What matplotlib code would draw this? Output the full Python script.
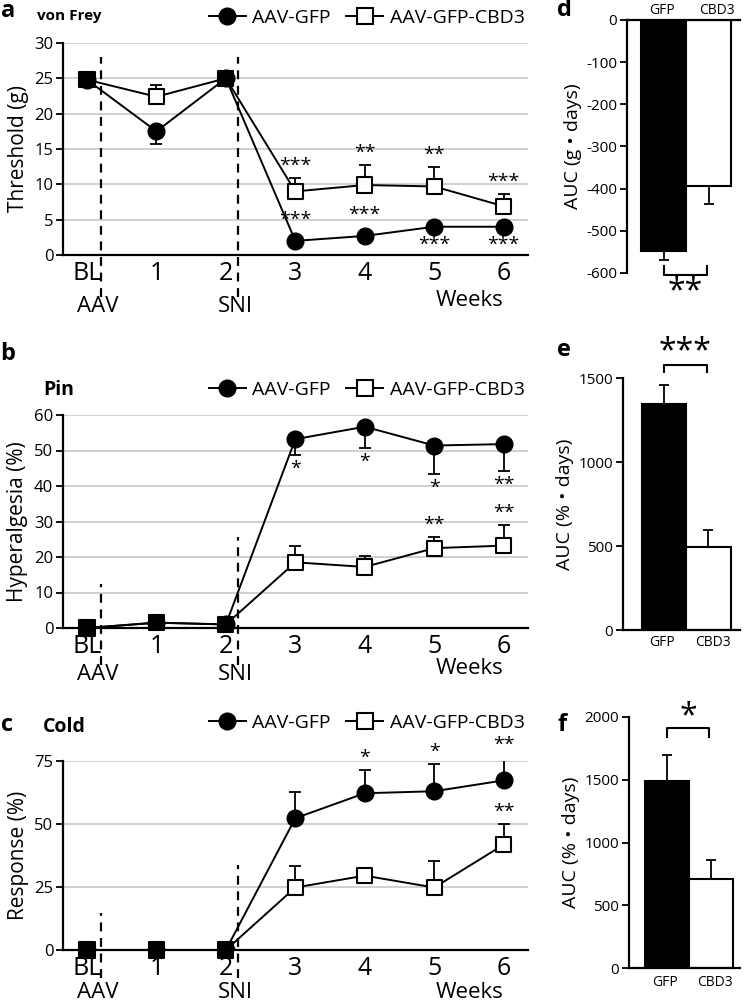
"""
Recreation of a six-panel behaviour figure: time courses (a-c) and AUC bars (d-f).
"""
import numpy as np
import matplotlib
matplotlib.use('Agg')
import matplotlib.pyplot as plt
from matplotlib.lines import Line2D

plt.rcParams['font.family'] = ['Open Sans', 'DejaVu Sans']
plt.rcParams['axes.unicode_minus'] = False

# ---- data -------------------------------------------------------------
week_labels = ['BL', '1', '2', '3', '4', '5', '6']
series_names = ['AAV-GFP', 'AAV-GFP-CBD3']

# a: von Frey threshold (g)
vf_gfp = [24.8, 17.5, 25.0, 2.0, 2.7, 4.0, 4.0]
vf_gfp_err = [0, 1.8, 0, 0.3, 0.3, 0.6, 0.6]
vf_cbd3 = [24.8, 22.4, 25.0, 9.0, 9.9, 9.7, 6.9]
vf_cbd3_err = [0, 1.7, 0, 1.9, 2.8, 2.7, 1.7]
vf_gfp_stars = ['', '', '', '***', '***', '***', '***']
vf_gfp_star_side = ['', '', '', 'up', 'up', 'down', 'down']
vf_cbd3_stars = ['', '', '', '***', '**', '**', '***']

# b: pin hyperalgesia (%)
pin_gfp = [0, 1.5, 1.0, 53.2, 56.7, 51.4, 51.8]
pin_gfp_err = [0, 0, 0, 4.5, 6.1, 8.0, 7.5]
pin_cbd3 = [0, 1.5, 1.0, 18.5, 17.2, 22.5, 23.2]
pin_cbd3_err = [0, 0, 0, 4.5, 3.0, 3.1, 5.8]
pin_gfp_stars = ['', '', '', '*', '*', '*', '**']
pin_cbd3_stars = ['', '', '', '', '', '**', '**']

# c: cold response (%)
cold_gfp = [0, 0, 0, 52.3, 62.2, 63.0, 67.3]
cold_gfp_err = [0, 0, 0, 10.3, 9.2, 10.8, 9.0]
cold_cbd3 = [0, 0, 0, 24.8, 29.5, 24.8, 41.8]
cold_cbd3_err = [0, 0, 0, 8.5, 2.9, 10.6, 8.1]
cold_gfp_stars = ['', '', '', '', '*', '*', '**']
cold_cbd3_stars = ['', '', '', '', '', '', '**']

# d-f: area under curve
groups = ['GFP', 'CBD3']
auc_vf = [-548, -393]
auc_vf_err = [20, 44]
auc_pin = [1343, 495]
auc_pin_err = [117, 99]
auc_cold = [1490, 712]
auc_cold_err = [208, 145]

# events (x position between weeks)
aav_x = 0.2
sni_x = 2.17

# ---- layout helpers ----------------------------------------------------
W, H = 746, 1008
fig = plt.figure(figsize=(W / 100, H / 100), dpi=100)


def px_axes(left, top, right, bottom):
    return fig.add_axes([left / W, 1 - bottom / H, (right - left) / W, (bottom - top) / H])


def ftext(x, y, s, **kw):
    kw.setdefault('ha', 'center')
    kw.setdefault('va', 'center')
    fig.text(x / W, 1 - y / H, s, **kw)


def style_axes(ax):
    for side in ['top', 'right']:
        ax.spines[side].set_visible(False)
    for side in ['left', 'bottom']:
        ax.spines[side].set_linewidth(1.6)
    ax.tick_params(axis='y', direction='out', length=5, width=1.3, labelsize=12, pad=2)


def time_course(ax, gfp, gfp_err, gfp_dir, cbd3, cbd3_err, cbd3_dir, ymax, ystep,
                ylabel, dash_tops, dash_drop_px, ax_h_px):
    x = np.arange(len(week_labels))
    ax.set_xlim(-0.345, 6.35)
    ax.set_ylim(0, ymax)
    ax.set_yticks(np.arange(0, ymax + 1, ystep))
    for yv in np.arange(ystep, ymax + 1, ystep):
        ax.axhline(yv, color='#c8c8c8', lw=1.2, zorder=0)
    style_axes(ax)
    ax.set_xticks(x)
    ax.set_xticklabels(week_labels, fontsize=18)
    ax.tick_params(axis='x', length=0, pad=4)
    ax.set_ylabel(ylabel, fontsize=15, labelpad=4)

    # dashed event lines, running below the axis
    drop = -dash_drop_px / ax_h_px * ymax
    for xe, top in zip([aav_x, sni_x], dash_tops):
        ax.plot([xe, xe], [drop, top], color='black', lw=1.6, ls=(0, (4, 3)),
                clip_on=False, zorder=1)

    def errs(err, d):
        e = np.array(err)
        z = np.zeros_like(e)
        return [e, z] if d == 'down' else [z, e]

    ax.errorbar(x, gfp, yerr=errs(gfp_err, gfp_dir), fmt='none', ecolor='black',
                elinewidth=1.3, capsize=4, capthick=1.3, zorder=2)
    ax.errorbar(x, cbd3, yerr=errs(cbd3_err, cbd3_dir), fmt='none', ecolor='black',
                elinewidth=1.3, capsize=4, capthick=1.3, zorder=2)
    ax.plot(x, gfp, color='black', lw=1.4, zorder=3)
    ax.plot(x, cbd3, color='black', lw=1.4, zorder=3)
    ax.plot(x, gfp, ls='none', marker='o', ms=12, mfc='black', mec='black', zorder=4)
    same = np.isclose(gfp, cbd3)
    fill = ['black' if s else 'white' for s in same]
    ax.scatter(x, cbd3, marker='s', s=120, c=fill, edgecolors='black', linewidths=1.5,
               zorder=5, clip_on=False)


def stars(ax, vals, err, labels, sides, err_dir):
    for i, (v, e, lab, side) in enumerate(zip(vals, err, labels, sides)):
        if not lab:
            continue
        if side == err_dir:
            anchor = v + e if side == 'up' else v - e
            off = 9
        else:
            anchor = v
            off = 15
        dy = off if side == 'up' else -off - 1
        ax.annotate(lab, (i, anchor), xytext=(0, dy), textcoords='offset points',
                    ha='center', va='center', fontsize=14, annotation_clip=False)


def legend(y):
    handles = [Line2D([], [], color='black', lw=1.4, marker='o', ms=12, mfc='black'),
               Line2D([], [], color='black', lw=1.4, marker='s', ms=11, mfc='white', mew=1.5)]
    fig.legend(handles, series_names, loc='center right', bbox_to_anchor=(525 / W, 1 - y / H),
               ncol=2, frameon=False, fontsize=14, handlelength=1.9, handletextpad=0.35,
               columnspacing=0.8, borderpad=0, borderaxespad=0)


def auc_bars(ax, vals, err, ylim, yticks, ylabel, sig, bracket, star_y, top_axis=False):
    xb = np.arange(len(groups))
    ax.bar(xb, vals, width=1.0, color=['black', 'white'], edgecolor='black', linewidth=1.5,
           zorder=2)
    e = np.array(err)
    z = np.zeros_like(e)
    yerr = [e, z] if top_axis else [z, e]
    ax.errorbar(xb, vals, yerr=yerr, fmt='none', ecolor='black', elinewidth=1.3,
                capsize=3.5, capthick=1.3, zorder=1)
    ax.set_ylim(*ylim)
    ax.set_yticks(yticks)
    ax.spines['right'].set_visible(False)
    if top_axis:
        ax.spines['bottom'].set_visible(False)
        ax.spines['top'].set_linewidth(1.6)
    else:
        ax.spines['top'].set_visible(False)
        ax.spines['bottom'].set_linewidth(1.6)
    ax.spines['left'].set_linewidth(1.6)
    ax.tick_params(axis='y', direction='out', length=5, width=1.3, labelsize=11, pad=2)
    ax.set_xticks([])
    ax.set_ylabel(ylabel, fontsize=14, labelpad=3)
    y0, y1 = bracket
    ax.plot([0, 0, 0.96, 0.96], [y1, y0, y0, y1], color='black', lw=1.5, clip_on=False)
    ax.text(0.48, star_y, sig, ha='center', va='center', fontsize=23, clip_on=False)


# ---- panel a -----------------------------------------------------------
ax_a = px_axes(63, 43, 528, 255)
time_course(ax_a, vf_gfp, vf_gfp_err, 'down', vf_cbd3, vf_cbd3_err, 'up', 30, 5,
            'Threshold (g)', [28, 28], 42, 212)
stars(ax_a, vf_gfp, vf_gfp_err, vf_gfp_stars, vf_gfp_star_side, 'down')
stars(ax_a, vf_cbd3, vf_cbd3_err, vf_cbd3_stars, ['up'] * 7, 'up')
legend(18)
ftext(8, 11, 'a', fontsize=17, fontweight='bold')
ftext(37, 16, 'von Frey', fontsize=11, fontweight='bold', ha='left')
ftext(98, 306, 'AAV', fontsize=16)
ftext(235, 306, 'SNI', fontsize=16)
ftext(470, 300, 'Weeks', fontsize=16)

# ---- panel b -----------------------------------------------------------
ax_b = px_axes(63, 415, 528, 628)
time_course(ax_b, pin_gfp, pin_gfp_err, 'down', pin_cbd3, pin_cbd3_err, 'up', 60, 10,
            'Hyperalgesia (%)', [12.4, 25.6], 37, 213)
stars(ax_b, pin_gfp, pin_gfp_err, pin_gfp_stars, ['down'] * 7, 'down')
stars(ax_b, pin_cbd3, pin_cbd3_err, pin_cbd3_stars, ['up'] * 7, 'up')
legend(390)
ftext(8, 354, 'b', fontsize=17, fontweight='bold')
ftext(43, 390, 'Pin', fontsize=14, fontweight='bold', ha='left')
ftext(98, 675, 'AAV', fontsize=16)
ftext(235, 675, 'SNI', fontsize=16)
ftext(470, 668, 'Weeks', fontsize=16)

# ---- panel c -----------------------------------------------------------
ax_c = px_axes(63, 761, 528, 950)
time_course(ax_c, cold_gfp, cold_gfp_err, 'up', cold_cbd3, cold_cbd3_err, 'up', 75, 25,
            'Response (%)', [14.7, 33.7], 28, 189)
stars(ax_c, cold_gfp, cold_gfp_err, cold_gfp_stars, ['up'] * 7, 'up')
stars(ax_c, cold_cbd3, cold_cbd3_err, cold_cbd3_stars, ['up'] * 7, 'up')
legend(723)
ftext(7, 725, 'c', fontsize=17, fontweight='bold')
ftext(43, 727, 'Cold', fontsize=14, fontweight='bold', ha='left')
ftext(98, 993, 'AAV', fontsize=16)
ftext(235, 993, 'SNI', fontsize=16)
ftext(470, 992, 'Weeks', fontsize=16)

# ---- panel d -----------------------------------------------------------
ax_d = px_axes(627, 20, 740, 273)
ax_d.set_xlim(-0.82, 1.69)
auc_bars(ax_d, auc_vf, auc_vf_err, (-600, 0), np.arange(-600, 1, 100),
         'AUC (g • days)', '**', (-605, -584), -645, top_axis=True)
ftext(564, 10, 'd', fontsize=17, fontweight='bold')
ftext(662, 10, groups[0], fontsize=10)
ftext(717, 10, groups[1], fontsize=10)

# ---- panel e -----------------------------------------------------------
ax_e = px_axes(623, 378, 740, 630)
ax_e.set_xlim(-0.92, 1.71)
auc_bars(ax_e, auc_pin, auc_pin_err, (0, 1500), [0, 500, 1000, 1500],
         'AUC (% • days)', '***', (1577, 1536), 1655)
ftext(564, 350, 'e', fontsize=17, fontweight='bold')
ftext(662, 643, groups[0], fontsize=10)
ftext(713, 643, groups[1], fontsize=10)

# ---- panel f -----------------------------------------------------------
ax_f = px_axes(629, 717, 740, 968)
ax_f.set_xlim(-0.86, 1.66)
auc_bars(ax_f, auc_cold, auc_cold_err, (0, 2000), [0, 500, 1000, 1500, 2000],
         'AUC (% • days)', '*', (1912, 1840), 2005)
ftext(562, 725, 'f', fontsize=17, fontweight='bold')
ftext(665, 982, groups[0], fontsize=10)
ftext(715, 982, groups[1], fontsize=10)

fig.savefig('out.png', dpi=100)
